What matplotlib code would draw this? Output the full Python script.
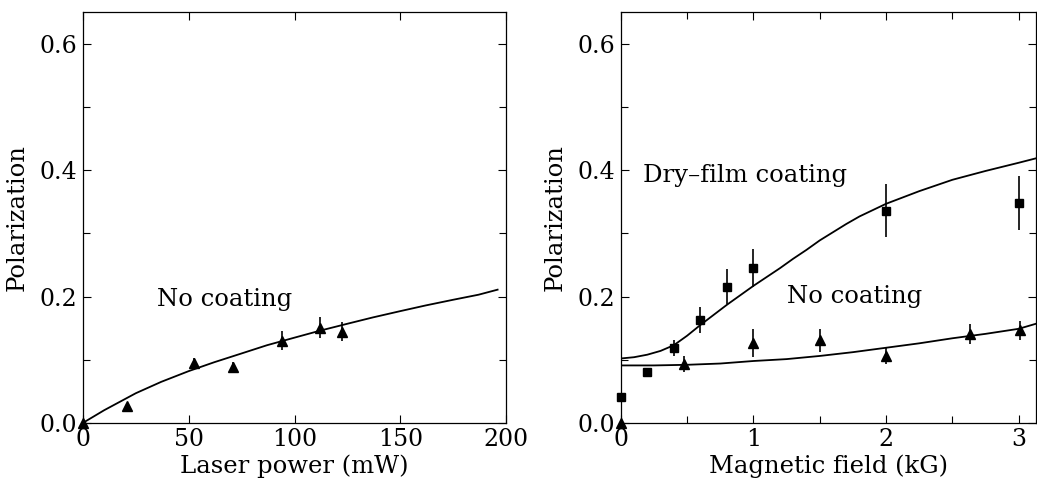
import numpy as np
import matplotlib
matplotlib.use('Agg')
import matplotlib.pyplot as plt
from matplotlib.ticker import MultipleLocator

plt.rcParams['font.family'] = ['DejaVu Serif']

############################################################################################################
# Data
############################################################################################################

# Left panel: polarization vs laser power (no coating)
power = [0, 20.8, 52.5, 70.7, 93.9, 112.2, 122.6]
pol_power = [0.0, 0.026, 0.095, 0.088, 0.130, 0.151, 0.144]
err_power = [0.0, 0.003, 0.008, 0.008, 0.015, 0.016, 0.015]

fit_power_x = [0, 10, 25, 37, 50, 62, 75, 87, 100, 112, 125, 137, 150, 162, 175, 187, 196]
fit_power_y = [0.0, 0.020, 0.047, 0.065, 0.082, 0.096, 0.110, 0.123, 0.135, 0.146, 0.157, 0.167,
               0.177, 0.186, 0.195, 0.203, 0.211]

# Right panel: polarization vs magnetic field
field_dry = [0.0, 0.2, 0.4, 0.6, 0.8, 1.0, 2.0, 3.0]
pol_dry = [0.041, 0.080, 0.119, 0.163, 0.216, 0.245, 0.336, 0.348]
err_dry = [0.004, 0.006, 0.013, 0.021, 0.027, 0.030, 0.042, 0.043]

field_none = [0.0, 0.48, 1.0, 1.5, 2.0, 2.63, 3.01]
pol_none = [0.0, 0.093, 0.127, 0.131, 0.106, 0.141, 0.147]
err_none = [0.0, 0.013, 0.022, 0.018, 0.013, 0.016, 0.015]

fit_dry_x = [0.0, 0.1, 0.2, 0.3, 0.4, 0.5, 0.6, 0.7, 0.8, 0.9, 1.0, 1.1, 1.2, 1.3, 1.4, 1.5,
             1.6, 1.7, 1.8, 1.9, 2.0, 2.25, 2.5, 2.75, 3.0, 3.13]
fit_dry_y = [0.102, 0.104, 0.108, 0.114, 0.123, 0.138, 0.155, 0.171, 0.187, 0.202, 0.217, 0.231,
             0.245, 0.260, 0.274, 0.289, 0.302, 0.315, 0.327, 0.337, 0.347, 0.367, 0.385, 0.399,
             0.412, 0.419]

fit_none_x = [0.0, 0.25, 0.5, 0.75, 1.0, 1.25, 1.5, 1.75, 2.0, 2.25, 2.5, 2.75, 3.0, 3.13]
fit_none_y = [0.091, 0.091, 0.092, 0.094, 0.098, 0.101, 0.106, 0.112, 0.119, 0.126, 0.134, 0.141,
              0.149, 0.157]

############################################################################################################
# Plot
############################################################################################################

fig = plt.figure(figsize=(10.37, 4.8), dpi=100)
ax1 = fig.add_axes([0.080, 0.119, 0.408, 0.855])
ax2 = fig.add_axes([0.5986, 0.119, 0.4004, 0.855])

fs_tick = 17
fs_lab = 17.5

for ax in [ax1, ax2]:
    ax.set_ylim(0, 0.65)
    ax.yaxis.set_major_locator(MultipleLocator(0.2))
    ax.yaxis.set_minor_locator(MultipleLocator(0.1))
    ax.yaxis.set_major_formatter(plt.FormatStrFormatter('%.1f'))
    ax.tick_params(which='both', direction='in', top=True, right=True, width=0.8,
                   labelsize=fs_tick, pad=4)
    ax.tick_params(which='major', length=6)
    ax.tick_params(which='minor', length=5)
    for sp in ax.spines.values():
        sp.set_linewidth(0.9)
    ax.set_ylabel('Polarization', fontsize=fs_lab, labelpad=8)

# Left
ax1.set_xlim(0, 200)
ax1.xaxis.set_major_locator(MultipleLocator(50))
ax1.plot(fit_power_x, fit_power_y, color='k', lw=1.3)
ax1.errorbar(power, pol_power, yerr=err_power, fmt='^', color='k', ms=7,
             elinewidth=1.2, capsize=0, clip_on=False)
ax1.text(35, 0.196, 'No coating', fontsize=fs_lab, va='center')
ax1.set_xlabel('Laser power (mW)', fontsize=fs_lab, labelpad=2)

# Right
ax2.set_xlim(0, 3.13)
ax2.xaxis.set_major_locator(MultipleLocator(1))
ax2.xaxis.set_minor_locator(MultipleLocator(0.5))
ax2.plot(fit_dry_x, fit_dry_y, color='k', lw=1.3)
ax2.plot(fit_none_x, fit_none_y, color='k', lw=1.3)
ax2.errorbar(field_dry, pol_dry, yerr=err_dry, fmt='s', color='k', ms=6,
             elinewidth=1.2, capsize=0, clip_on=False)
ax2.errorbar(field_none, pol_none, yerr=err_none, fmt='^', color='k', ms=7,
             elinewidth=1.2, capsize=0, clip_on=False)
ax2.text(0.17, 0.392, 'Dry\u2013film coating', fontsize=fs_lab, va='center')
ax2.text(1.25, 0.2, 'No coating', fontsize=fs_lab, va='center')
ax2.set_xlabel('Magnetic field (kG)', fontsize=fs_lab, labelpad=2)

fig.savefig('out.png', dpi=100)
